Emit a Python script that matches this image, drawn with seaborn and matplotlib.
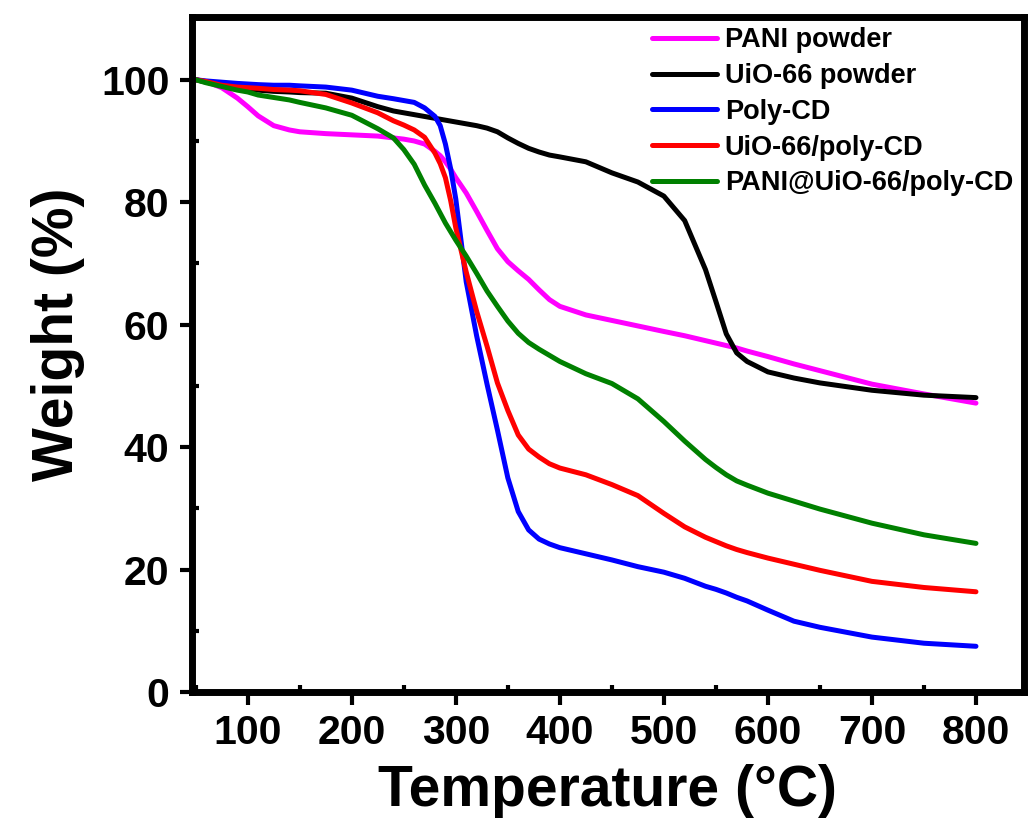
import numpy as np
import pandas as pd
import matplotlib
matplotlib.use("Agg")
import matplotlib.pyplot as plt
import seaborn as sns
from matplotlib.ticker import MultipleLocator

temperature = [50, 60, 75, 90, 100, 110, 125, 140, 150, 175, 200, 225, 240, 250, 260, 270, 280, 285, 290,
               295, 300, 310, 320, 330, 340, 350, 360, 370, 380, 390, 400, 425, 450, 475, 500, 520, 540,
               550, 560, 570, 580, 600, 625, 650, 700, 750, 800]

pani_powder = [100, 99.7, 98.7, 97.0, 95.6, 94.1, 92.5, 91.8, 91.5, 91.2, 91.0, 90.8, 90.5, 90.3, 90.0,
               89.5, 88.3, 87.6, 86.6, 85.4, 84.0, 81.5, 78.5, 75.4, 72.4, 70.3, 68.8, 67.4, 65.7, 64.1, 63.0,
               61.6, 60.7, 59.8, 58.9, 58.2, 57.4, 57.0, 56.6, 56.2, 55.7, 54.8, 53.6, 52.5, 50.3,
               48.7, 47.2]

uio66_powder = [100, 99.6, 99.1, 98.7, 98.5, 98.3, 98.1, 98.0, 97.9, 97.8, 97.0, 95.6, 94.9, 94.6,
                94.3, 94.0, 93.7, 93.55, 93.4, 93.25, 93.1, 92.8, 92.5, 92.1, 91.5, 90.5, 89.6, 88.8, 88.2, 87.7,
                87.4, 86.6, 84.8, 83.3, 81.0, 77.0, 69.0, 63.8, 58.5, 55.4, 54.0, 52.3, 51.3, 50.5,
                49.3, 48.5, 48.1]

poly_cd = [100, 99.8, 99.6, 99.4, 99.3, 99.2, 99.1, 99.1, 99.0, 98.8, 98.3, 97.3, 96.9, 96.6, 96.3,
           95.4, 94.0, 92.5, 89.5, 85.5, 80.5, 67.0, 58.2, 50.3, 42.8, 35.0, 29.5, 26.5, 25.0, 24.2, 23.6, 22.6,
           21.6, 20.5, 19.6, 18.6, 17.3, 16.8, 16.2, 15.5, 14.9, 13.4, 11.6, 10.6, 9.0, 8.0, 7.5]

uio66_poly_cd = [100, 99.7, 99.1, 98.8, 98.7, 98.6, 98.4, 98.3, 98.2, 97.6, 96.2, 94.6, 93.3, 92.6,
                 91.8, 90.6, 88.0, 86.3, 84.0, 80.3, 75.8, 68.6, 62.2, 56.5, 50.5, 46.0, 42.0, 39.7, 38.4, 37.3,
                 36.6, 35.5, 33.9, 32.1, 29.2, 27.0, 25.3, 24.6, 23.9, 23.3, 22.8, 21.9, 20.9, 19.9,
                 18.1, 17.1, 16.4]

pani_uio66_poly_cd = [100, 99.5, 98.9, 98.3, 98.0, 97.5, 97.1, 96.7, 96.3, 95.4, 94.2, 92.0, 90.5,
                      88.6, 86.2, 82.8, 79.8, 78.2, 76.6, 75.2, 73.8, 71.2, 68.4, 65.5, 63.0, 60.6, 58.6, 57.1,
                      56.0, 55.0, 54.0, 52.0, 50.4, 47.9, 44.2, 41.0, 38.0, 36.7, 35.5, 34.5, 33.8,
                      32.5, 31.2, 29.9, 27.6, 25.7, 24.3]

labels = ["PANI powder", "UiO-66 powder", "Poly-CD", "UiO-66/poly-CD", "PANI@UiO-66/poly-CD"]
colors = ["#FF00FF", "#000000", "#0000FF", "#FF0000", "#008000"]
series = [pani_powder, uio66_powder, poly_cd, uio66_poly_cd, pani_uio66_poly_cd]

frames = []
for lab, vals in zip(labels, series):
    frames.append(pd.DataFrame({"Temperature": temperature, "Weight": vals, "Sample": lab}))
df = pd.concat(frames, ignore_index=True)

sns.set_style("white")
plt.rcParams['font.family'] = ['Liberation Sans', 'DejaVu Sans']
plt.rcParams['font.weight'] = 'bold'
plt.rcParams['text.color'] = 'black'
plt.rcParams['axes.labelcolor'] = 'black'
plt.rcParams['xtick.color'] = 'black'
plt.rcParams['ytick.color'] = 'black'

fig = plt.figure(figsize=(10.3, 8.32), dpi=100)
ax = fig.add_axes([0.186, 0.168, 0.808, 0.812])

sns.lineplot(data=df, x="Temperature", y="Weight", hue="Sample", hue_order=labels,
             palette=colors, linewidth=3.6, ax=ax, sort=False, estimator=None)

ax.set_xlim(46, 846)
ax.set_ylim(0, 110.3)
ax.xaxis.set_major_locator(MultipleLocator(100))
ax.xaxis.set_minor_locator(MultipleLocator(50))
ax.yaxis.set_major_locator(MultipleLocator(20))
ax.yaxis.set_minor_locator(MultipleLocator(10))
ax.set_xticks(range(100, 801, 100))

for s in ax.spines.values():
    s.set_linewidth(5)
    s.set_color("black")

ax.tick_params(axis="both", which="major", direction="out", length=9, width=3,
               labelsize=29.5, pad=7, color="black", labelcolor="black")
ax.tick_params(axis="both", which="minor", direction="in", length=5, width=3, color="black")
ax.tick_params(axis="x", which="both", bottom=True, top=False)
ax.tick_params(axis="y", which="both", left=True, right=False)
for lbl in ax.get_xticklabels() + ax.get_yticklabels():
    lbl.set_fontweight("bold")

ax.set_xlabel("Temperature (°C)", fontsize=41, fontweight="bold", labelpad=8, color="black")
ax.set_ylabel("Weight (%)", fontsize=41, fontweight="bold", color="black")
ax.yaxis.set_label_coords(-0.128, 0.53)

leg = ax.legend(loc="upper right", bbox_to_anchor=(1.0, 1.0), frameon=False,
                prop={"size": 19.5, "weight": "bold"}, handlelength=2.4,
                handletextpad=0.3, labelspacing=0.36, borderaxespad=0.0)
for h in leg.get_lines():
    h.set_linewidth(3.6)
for t in leg.get_texts():
    t.set_color("black")

fig.savefig("out.png", dpi=100)
